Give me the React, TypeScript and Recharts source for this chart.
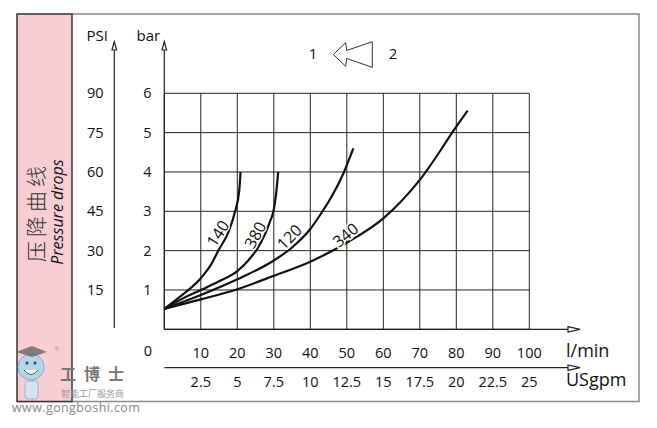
import React from "react";
import { CartesianGrid, Line, LineChart, ReferenceDot, XAxis, YAxis } from "recharts";

// l/min axis ticks and matching US gallon labels
const flowTicks = [10, 20, 30, 40, 50, 60, 70, 80, 90, 100];
const gpmLabels = ["2.5", "5", "7.5", "10", "12.5", "15", "17.5", "20", "22.5", "25"];

// bar axis ticks and matching PSI labels
const barTicks = [1, 2, 3, 4, 5, 6];
const psiLabels = ["15", "30", "45", "60", "75", "90"];

// pressure drop curves (flow l/min, bar)
const curve140 = [
    { flow: 0, bar: 0.52 },
    { flow: 5, bar: 0.88 },
    { flow: 10, bar: 1.3 },
    { flow: 12.7, bar: 1.63 },
    { flow: 14.8, bar: 2.0 },
    { flow: 17.7, bar: 2.5 },
    { flow: 19.4, bar: 3.0 },
    { flow: 20.5, bar: 3.5 },
    { flow: 20.9, bar: 4.0 },
];
const curve380 = [
    { flow: 0, bar: 0.52 },
    { flow: 5, bar: 0.78 },
    { flow: 10, bar: 1.0 },
    { flow: 15, bar: 1.22 },
    { flow: 20, bar: 1.48 },
    { flow: 23, bar: 1.75 },
    { flow: 25.5, bar: 2.05 },
    { flow: 27.5, bar: 2.4 },
    { flow: 29, bar: 2.75 },
    { flow: 29.9, bar: 3.0 },
    { flow: 30.7, bar: 3.5 },
    { flow: 31.2, bar: 4.0 },
];
const curve120 = [
    { flow: 0, bar: 0.52 },
    { flow: 10, bar: 0.87 },
    { flow: 20, bar: 1.27 },
    { flow: 30, bar: 1.75 },
    { flow: 35, bar: 2.08 },
    { flow: 40, bar: 2.55 },
    { flow: 43, bar: 2.95 },
    { flow: 46, bar: 3.4 },
    { flow: 49, bar: 3.95 },
    { flow: 51.8, bar: 4.6 },
];
const curve340 = [
    { flow: 0, bar: 0.52 },
    { flow: 10, bar: 0.76 },
    { flow: 20, bar: 1.02 },
    { flow: 30, bar: 1.36 },
    { flow: 40, bar: 1.72 },
    { flow: 50, bar: 2.2 },
    { flow: 60, bar: 2.82 },
    { flow: 70, bar: 3.8 },
    { flow: 80, bar: 5.15 },
    { flow: 83.1, bar: 5.56 },
];
const curves = [curve140, curve380, curve120, curve340];

const curveLabels = [
    { text: "140", flow: 14.6, bar: 2.44, angle: -57 },
    { text: "380", flow: 24.85, bar: 2.4, angle: -62 },
    { text: "120", flow: 34.2, bar: 2.35, angle: -45 },
    { text: "340", flow: 49.6, bar: 2.4, angle: -40 },
];

const FONT = "'Open Sans', 'Noto Sans', sans-serif";
const W = 657;
const H = 428;
const PLOT_L = 164.3;
const PLOT_T = 93.3;
const PLOT_R = 529.3;
const PLOT_B = 329.3;

const FlowTick = (props: any) => {
    const { x, y, payload } = props;
    const i = flowTicks.indexOf(payload.value);
    return (
        <g fontFamily={FONT} fontSize={14.5} fill="#111" textAnchor="middle">
            <text x={x} y={y + 28.5}>{payload.value}</text>
            <text x={x} y={y + 58}>{gpmLabels[i]}</text>
        </g>
    );
};

const BarTick = (props: any) => {
    const { x, y, payload } = props;
    const i = barTicks.indexOf(payload.value);
    return (
        <g fontFamily={FONT} fontSize={14.5} fill="#111" textAnchor="middle">
            <text x={x - 17} y={y + 5}>{payload.value}</text>
            <text x={x - 69} y={y + 5}>{psiLabels[i]}</text>
        </g>
    );
};

const Decor = () => (
    <svg width={W} height={H} style={{ position: "absolute", left: 0, top: 0 }}>
        {/* frame and side band */}
        <polyline points="72,14 639,14 639,401.5 17,401.5" fill="none" stroke="#8a8a8a" strokeWidth={1.5} />
        <rect x={17} y={14} width={55} height={387.5} fill="#f9cdd4" stroke="#333" strokeWidth={1.5} />
        <text transform="translate(35,212) rotate(-90)" textAnchor="middle" dominantBaseline="central"
            fontFamily="'Noto Sans CJK SC'" fontWeight={300} fontSize={21} letterSpacing={4} fill="#333">压降曲线</text>
        <text transform="translate(56.5,212) rotate(-90)" textAnchor="middle" dominantBaseline="central"
            fontFamily={FONT} fontStyle="italic" fontSize={16} fill="#111">Pressure drops</text>

        {/* watermark */}
        <circle cx={31} cy={367} r={13} fill="#a9d6ef" stroke="#6aa7c9" strokeWidth={1} opacity={0.85} />
        <polygon points="16,352 32,346 47,352 32,357" fill="#666" opacity={0.8} />
        <path d="M24,370 Q31,379 38,370" fill="#fff" stroke="#555" strokeWidth={1} />
        <circle cx={27} cy={363} r={1.6} fill="#444" />
        <circle cx={35} cy={363} r={1.6} fill="#444" />
        <rect x={25} y={381} width={13} height={18} rx={3} fill="#cfe7f5" stroke="#7ab" strokeWidth={0.8} opacity={0.85} />
        <text x={54} y={351} fontSize={6} fill="#999" fontFamily={FONT}>®</text>
        <text x={60} y={380} fontFamily="'Noto Sans CJK SC'" fontWeight="bold" fontSize={16} letterSpacing={8} fill="#777">工博士</text>
        <text x={61} y={397} fontFamily="'Noto Sans CJK SC'" fontSize={9} fill="#999">智能工厂服务商</text>
        <text x={12} y={412} fontFamily={FONT} fontSize={12.5} fill="#888" letterSpacing={0.4}>www.gongboshi.com</text>

        {/* axes with arrows */}
        <g stroke="#222" strokeWidth={1.2} fill="#fff">
            <line x1={114.3} y1={328} x2={114.3} y2={50} />
            <polygon points="114.3,41.5 112,50 116.6,50" />
            <line x1={PLOT_L} y1={PLOT_B} x2={PLOT_L} y2={50} />
            <polygon points="164.3,41.5 162,50 166.6,50" />
            <line x1={PLOT_L} y1={PLOT_B} x2={568} y2={PLOT_B} />
            <polygon points="568,326.6 580,329.3 568,332" />
            <line x1={PLOT_L} y1={367.7} x2={568} y2={367.7} />
            <polygon points="568,365 580,367.7 568,370.4" />
        </g>

        <g fontFamily={FONT} fill="#111">
            <text x={86.5} y={40.7} fontSize={15}>PSI</text>
            <text x={136.5} y={40.7} fontSize={15}>bar</text>
            <text x={148} y={356} fontSize={14.5} textAnchor="middle">0</text>
            <text x={566} y={356.5} fontSize={18}>l/min</text>
            <text x={566} y={386} fontSize={18}>USgpm</text>
            <text x={313} y={58.5} fontSize={15} textAnchor="middle">1</text>
            <text x={393} y={58.5} fontSize={15} textAnchor="middle">2</text>
        </g>
        <polygon points="333.3,54.5 345.7,42.7 346.7,50.5 372.3,41.7 372.3,67.3 346.7,58.5 345.7,66.3"
            fill="#fff" stroke="#333" strokeWidth={1} />
    </svg>
);

const CurveLabel = (text: string, angle: number) => (props: any) => {
    const vb = props.viewBox || {};
    const cx = (vb.x ?? 0) + (vb.width ?? 0) / 2;
    const cy = (vb.y ?? 0) + (vb.height ?? 0) / 2;
    return (
        <text
            transform={`translate(${cx},${cy}) rotate(${angle})`}
            textAnchor="middle"
            dominantBaseline="central"
            fontFamily={FONT}
            fontSize={16}
            fill="#111"
            stroke="#fff"
            strokeWidth={3}
            paintOrder="stroke"
        >
            {text}
        </text>
    );
};

export default function App() {
    return (
        <div style={{ position: "absolute", left: 0, top: 0, width: W, height: H, background: "#fff" }}>
            <Decor />
            <div style={{ position: "absolute", left: 0, top: 0 }}>
                <LineChart
                    width={W}
                    height={H}
                    margin={{ top: PLOT_T, right: W - PLOT_R, bottom: 0, left: 0 }}
                >
                    <CartesianGrid stroke="#222" strokeWidth={1} />
                    <XAxis
                        type="number"
                        dataKey="flow"
                        domain={[0, 100]}
                        ticks={flowTicks}
                        interval={0}
                        allowDataOverflow
                        axisLine={false}
                        tickLine={false}
                        tickSize={0}
                        tickMargin={0}
                        height={H - PLOT_B}
                        tick={<FlowTick />}
                    />
                    <YAxis
                        type="number"
                        domain={[0, 6]}
                        ticks={barTicks}
                        interval={0}
                        allowDataOverflow
                        axisLine={false}
                        tickLine={false}
                        tickSize={0}
                        tickMargin={0}
                        width={PLOT_L}
                        tick={<BarTick />}
                    />
                    {curves.map((c, i) => (
                        <Line
                            key={i}
                            data={c}
                            dataKey="bar"
                            type="monotone"
                            stroke="#111"
                            strokeWidth={2.2}
                            dot={false}
                            activeDot={false}
                            isAnimationActive={false}
                        />
                    ))}
                    {curveLabels.map((l) => (
                        <ReferenceDot
                            key={l.text}
                            x={l.flow}
                            y={l.bar}
                            r={0}
                            fill="none"
                            stroke="none"
                            label={CurveLabel(l.text, l.angle)}
                        />
                    ))}
                </LineChart>
            </div>
        </div>
    );
}
